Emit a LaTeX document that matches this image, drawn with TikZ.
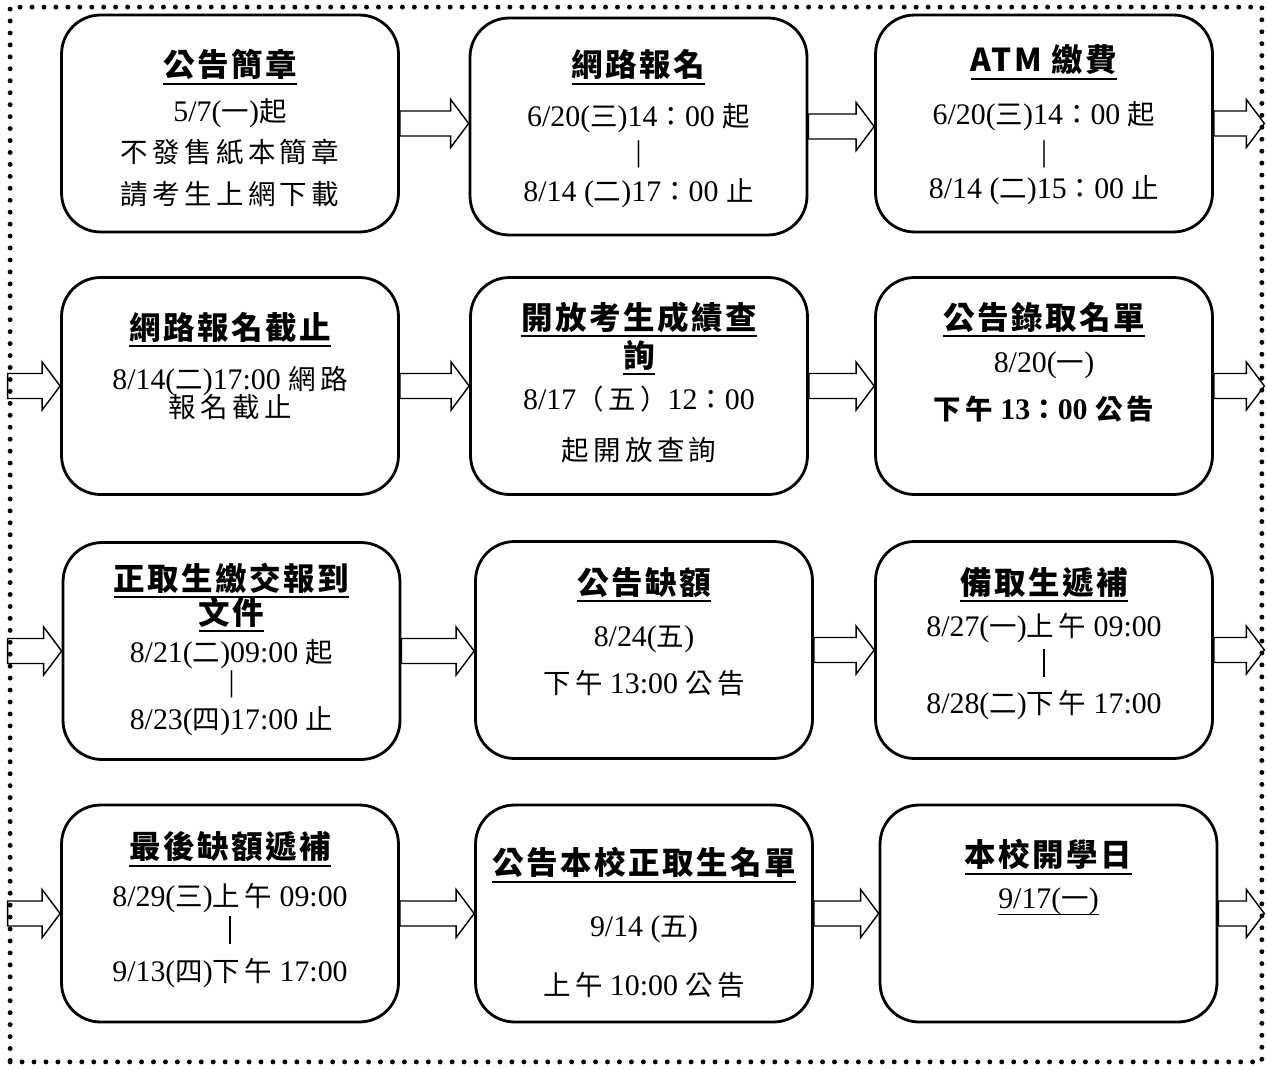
\documentclass[tikz,border=0pt]{standalone}
\usepackage{fontspec}
\setmainfont{Liberation Serif}
\newfontfamily\zhfont[Scale=0.92,LetterSpace=16]{Noto Sans CJK TC}
\newfontfamily\zhtitlefont[Scale=1.055,LetterSpace=8]{Noto Sans CJK TC}
\usetikzlibrary{calc}

\newsavebox\ttlbox
\newcommand\zh[1]{{\zhfont #1}}
\newcommand\ttl[1]{\sbox\ttlbox{\zhtitlefont\bfseries #1}\rlap{\rule[-4.5pt]{\wd\ttlbox}{1.1pt}}\usebox\ttlbox}
\newcommand\undl[1]{\sbox\ttlbox{#1}\rlap{\rule[-3.5pt]{\wd\ttlbox}{0.7pt}}\usebox\ttlbox}
\newcommand\boldbar{\rule[-2.5pt]{1.5pt}{16pt}}
\newcommand\flowarrow[2]{%
  \draw[flow] let \p1=(#1), \p2=(#2) in
    (\x1,\y1+0.25cm) -- (\x2-0.36cm,\y1+0.25cm) -- (\x2-0.36cm,\y1+0.48cm) -- (\x2,\y1)
    -- (\x2-0.36cm,\y1-0.48cm) -- (\x2-0.36cm,\y1-0.25cm) -- (\x1,\y1-0.25cm) -- cycle;}
\lineskiplimit=-100pt

\tikzset{
  stage/.style={draw, line width=1.6pt, rounded corners=0.78cm,
    minimum width=6.74cm, minimum height=4.34cm},
  info/.style={anchor=base, align=center, inner sep=0pt,
    font=\fontsize{17}{0}\selectfont},
  flow/.style={line width=0.8pt},
  frame/.style={draw, line width=2.8pt, dash pattern=on 0pt off 6.8pt, line cap=round,
    minimum width=25.04cm, minimum height=21.1cm}
}

\begin{document}
\begin{tikzpicture}[x=0.02cm, y=-0.02cm]
  \useasboundingbox (0,0) rectangle (1267,1068);
  \node[frame] (frame) at (636,534.5) {};

  % Reihe 1 (yshift = Grundlinie der letzten Zeile)
  \node[stage] (gonggao) at (230,123.5) {};
  \node[stage] (baoming) at (638.5,126.5) {};
  \node[stage] (atm) at (1044,123.5) {};

  \node[info] (gonggao-t) at ([yshift=-3.82cm]gonggao.north)
    {\ttl{公告簡章}\\[0.9cm] 5/7(\zh{一})\zh{起}\\[0.82cm] \zh{不發售紙本簡章}\\[0.84cm] \zh{請考生上網下載}};
  \node[info] (baoming-t) at ([yshift=-3.7cm]baoming.north)
    {\ttl{網路報名}\\[1cm] 6/20(\zh{三})14\zh{：}00 \zh{起}\\[0.7cm] |\\[0.8cm] 8/14 (\zh{二})17\zh{：}00 \zh{止}};
  \node[info] (atm-t) at ([yshift=-3.7cm]atm.north)
    {\ttl{ATM 繳費}\\[1.06cm] 6/20(\zh{三})14\zh{：}00 \zh{起}\\[0.74cm] |\\[0.74cm] 8/14 (\zh{二})15\zh{：}00 \zh{止}};

  % Reihe 2
  \node[stage] (jiezhi) at (230,386) {};
  \node[stage] (chaxun) at (639,386) {};
  \node[stage] (luqu) at (1044,386) {};

  \node[info] (jiezhi-t) at ([yshift=-2.82cm]jiezhi.north)
    {\ttl{網路報名截止}\\[1cm] 8/14(\zh{二})17:00 \zh{網路}\\[0.56cm] \zh{報名截止}};
  \node[info] (chaxun-t) at ([yshift=-3.68cm]chaxun.north)
    {\ttl{開放考生成績查}\\[0.76cm] \ttl{詢}\\[0.84cm] 8/17\zh{（五）}12\zh{：}00\\[1.02cm] \zh{起開放查詢}};
  \node[info] (luqu-t) at ([yshift=-2.86cm]luqu.north)
    {\ttl{公告錄取名單}\\[0.86cm] 8/20(\zh{一})\\[0.94cm] \bfseries\zh{下午} 13\zh{：}00 \zh{公告}};

  % Reihe 3
  \node[stage] (baodao) at (231.5,651) {};
  \node[stage] (quee) at (644,650) {};
  \node[stage] (dibu) at (1044,650) {};

  \node[info] (baodao-t) at ([yshift=-3.76cm]baodao.north)
    {\ttl{正取生繳交報到}\\[0.68cm] \ttl{文件}\\[0.76cm] 8/21(\zh{二})09:00 \zh{起}\\[0.58cm] |\\[0.76cm] 8/23(\zh{四})17:00 \zh{止}};
  \node[info] (quee-t) at ([yshift=-3.06cm]quee.north)
    {\ttl{公告缺額}\\[1.04cm] 8/24(\zh{五})\\[0.94cm] \zh{下午} 13:00 \zh{公告}};
  \node[info] (dibu-t) at ([yshift=-3.46cm]dibu.north)
    {\ttl{備取生遞補}\\[0.84cm] 8/27(\zh{一})\zh{上午} 09:00\\[0.74cm] \boldbar\\[0.8cm] 8/28(\zh{二})\zh{下午} 17:00};

  % Reihe 4
  \node[stage] (zuihou) at (230,913.5) {};
  \node[stage] (zhengqu) at (644,913.5) {};
  \node[stage] (kaixue) at (1048.5,913.5) {};

  \node[info] (zuihou-t) at ([yshift=-3.56cm]zuihou.north)
    {\ttl{最後缺額遞補}\\[0.96cm] 8/29(\zh{三})\zh{上午} 09:00\\[0.66cm] \boldbar\\[0.84cm] 9/13(\zh{四})\zh{下午} 17:00};
  \node[info] (zhengqu-t) at ([yshift=-3.84cm]zhengqu.north)
    {\ttl{公告本校正取生名單}\\[1.24cm] 9/14 (\zh{五})\\[1.18cm] \zh{上午} 10:00 \zh{公告}};
  \node[info] (kaixue-t) at ([yshift=-2.1cm]kaixue.north)
    {\ttl{本校開學日}\\[0.84cm] \undl{9/17(\zh{一})}};

  % Pfeile
  \coordinate (out1) at (frame.east |- atm.east);
  \coordinate (in2) at (frame.west |- jiezhi.west);
  \coordinate (out2) at (frame.east |- luqu.east);
  \coordinate (in3) at (frame.west |- baodao.west);
  \coordinate (out3) at (frame.east |- dibu.east);
  \coordinate (in4) at (frame.west |- zuihou.west);
  \coordinate (out4) at (frame.east |- kaixue.east);

  \flowarrow{gonggao.east}{baoming.west}
  \flowarrow{baoming.east}{atm.west}
  \flowarrow{atm.east}{out1}
  \flowarrow{in2}{jiezhi.west}
  \flowarrow{jiezhi.east}{chaxun.west}
  \flowarrow{chaxun.east}{luqu.west}
  \flowarrow{luqu.east}{out2}
  \flowarrow{in3}{baodao.west}
  \flowarrow{baodao.east}{quee.west}
  \flowarrow{quee.east}{dibu.west}
  \flowarrow{dibu.east}{out3}
  \flowarrow{in4}{zuihou.west}
  \flowarrow{zuihou.east}{zhengqu.west}
  \flowarrow{zhengqu.east}{kaixue.west}
  \flowarrow{kaixue.east}{out4}
\end{tikzpicture}
\end{document}
